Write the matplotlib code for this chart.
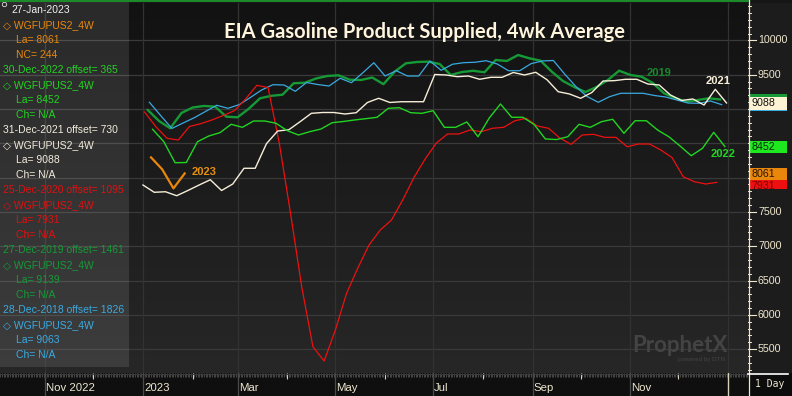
import numpy as np
import pandas as pd
import matplotlib
matplotlib.use("Agg")
import matplotlib.pyplot as plt
import matplotlib.transforms as mtransforms
from matplotlib.colors import LinearSegmentedColormap
from matplotlib.patches import Rectangle

W, H = 792, 396

# ---------------- data (weekly 4wk avg, shifted onto 2023 calendar) ----------------
start_2023 = "2023-01-06"
s2023 = [8295, 8120, 7843, 8061]

start_2022 = "2023-01-07"
s2022 = [8704, 8523, 8217, 8220, 8523, 8606, 8655, 8777, 8733, 8825,
         8825, 8792, 8684, 8621, 8669, 8708, 8800, 8818, 8840, 8859,
         8879, 9010, 9019, 8946, 8937, 8975, 8733, 8733, 8811, 8596,
         8869, 9073, 8879, 8879, 8774, 8563, 8555, 8596, 8777, 8733,
         8815, 8850, 8646, 8829, 8829, 8694, 8596, 8461, 8319, 8427,
         8660, 8452]

start_2021 = "2023-01-01"
s2021 = [7892, 7786, 7794, 7736, 7812, 7892, 7969, 7812, 7907, 8136,
         8136, 8494, 8679, 8698, 8815, 8937, 8949, 8949, 8927, 8946,
         9095, 9156, 9095, 9106, 9106, 9106, 9503, 9496, 9471, 9481,
         9433, 9462, 9462, 9532, 9496, 9535, 9427, 9252, 9219, 9156,
         9241, 9408, 9413, 9433, 9433, 9364, 9350, 9204, 9124, 9146,
         9058, 9287, 9088]

start_2020 = "2023-01-02"
s2020 = [8956, 8742, 8573, 8548, 8745, 8786, 8840, 8905, 8975, 9146,
         9345, 9313, 8504, 7484, 6410, 5535, 5327, 5779, 6314, 6682,
         7018, 7236, 7382, 7674, 8001, 8271, 8504, 8636, 8636, 8694,
         8669, 8719, 8733, 8829, 8864, 8752, 8719, 8577, 8485, 8621,
         8631, 8587, 8587, 8450, 8490, 8490, 8402, 8293, 8013, 7940,
         7907, 7931]

start_2019 = "2023-01-04"
s2019 = [8985, 8825, 8719, 8942, 9022, 9044, 9034, 8888, 8879, 9004,
         9156, 9192, 9208, 9375, 9383, 9445, 9481, 9491, 9427, 9423,
         9459, 9362, 9544, 9666, 9685, 9690, 9656, 9496, 9539, 9557,
         9535, 9714, 9700, 9787, 9739, 9704, 9544, 9408, 9321, 9248,
         9321, 9423, 9558, 9496, 9471, 9379, 9229, 9160, 9106, 9131,
         9156, 9139]

start_2018 = "2023-01-05"
s2018 = [9098, 8905, 8716, 8796, 8873, 8964, 9054, 9010, 9063, 9168,
         9277, 9354, 9350, 9258, 9386, 9357, 9335, 9448, 9383, 9525,
         9675, 9481, 9558, 9481, 9481, 9700, 9564, 9652, 9675, 9681,
         9704, 9656, 9558, 9558, 9660, 9700, 9707, 9510, 9328, 9182,
         9098, 9179, 9229, 9229, 9229, 9197, 9175, 9131, 9087, 9083,
         9117, 9063]

tick_dates = ["2022-11-01", "2023-01-01", "2023-03-01", "2023-05-01",
              "2023-07-01", "2023-09-01", "2023-11-01"]
tick_labels = ["Nov 2022", "2023", "Mar", "May", "Jul", "Sep", "Nov"]
y_ticks = [5500, 6000, 6500, 7000, 7500, 8000, 8500, 9000, 9500, 10000]
# labels hidden behind the last-value boxes in the original
y_hidden = [8000, 8500, 9000]

title = "EIA Gasoline Product Supplied, 4wk Average"

legend_lines = [
    ("27-Jan-2023", "#f0f0f0", 11),
    ("\u25C7 WGFUPUS2_4W", "#e8870c", 3),
    ("La= 8061", "#e8870c", 16),
    ("NC= 244", "#e8870c", 16),
    ("30-Dec-2022 offset= 365", "#22d422", 3),
    ("\u25C7 WGFUPUS2_4W", "#22d422", 3),
    ("La= 8452", "#22d422", 16),
    ("Ch= N/A", "#22d422", 16),
    ("31-Dec-2021 offset= 730", "#f2ecdc", 3),
    ("\u25C7 WGFUPUS2_4W", "#f2ecdc", 3),
    ("La= 9088", "#f2ecdc", 16),
    ("Ch= N/A", "#f2ecdc", 16),
    ("25-Dec-2020 offset= 1095", "#e01010", 3),
    ("\u25C7 WGFUPUS2_4W", "#e01010", 3),
    ("La= 7931", "#e01010", 16),
    ("Ch= N/A", "#e01010", 16),
    ("27-Dec-2019 offset= 1461", "#169a36", 3),
    ("\u25C7 WGFUPUS2_4W", "#169a36", 3),
    ("La= 9139", "#169a36", 16),
    ("Ch= N/A", "#169a36", 16),
    ("28-Dec-2018 offset= 1826", "#3aaae0", 3),
    ("\u25C7 WGFUPUS2_4W", "#3aaae0", 3),
    ("La= 9063", "#3aaae0", 16),
    ("Ch= N/A", "#3aaae0", 16),
]

C_ORANGE = "#e8870c"
C_LGREEN = "#22d422"
C_CREAM = "#f6eed8"
C_RED = "#ee1010"
C_DGREEN = "#169a36"
C_BLUE = "#3aaae0"
TXT = "#efe7cf"

FONT = ["Liberation Sans", "DejaVu Sans"]
plt.rcParams["font.family"] = FONT

fig = plt.figure(figsize=(W / 100, H / 100), dpi=100, facecolor="#161616")
px = mtransforms.Affine2D().scale(1 / W, -1 / H).translate(0, 1) + fig.transFigure

# ---------------- main axes ----------------
plot_top, plot_bot, plot_right = 3, 373, 748
ax = fig.add_axes([0, 1 - plot_bot / H, plot_right / W, (plot_bot - plot_top) / H])
ax.set_facecolor("#161616")
grad = LinearSegmentedColormap.from_list("g", ["#121212", "#272727"])
ax.imshow(np.linspace(0, 1, 256).reshape(-1, 1), cmap=grad, aspect="auto",
          extent=[0, 1, 0, 1], transform=ax.transAxes, zorder=0)

jan1 = pd.Timestamp("2023-01-01")
x0 = jan1 - pd.Timedelta(days=89.2)
x1 = jan1 + pd.Timedelta(days=377.4)
ylo, yhi = 5152, 10545

for v in y_ticks:
    ax.axhline(v, color="#3a3a3a", lw=0.9, zorder=1)
for d in tick_dates + ["2024-01-01"]:
    ax.axvline(pd.Timestamp(d), color="#323232", lw=0.9, zorder=1)


def wk(start, vals):
    return pd.date_range(start=start, periods=len(vals), freq="7D")


ax.plot(wk(start_2019, s2019), s2019, color=C_DGREEN, lw=1.7, zorder=3)
ax.plot(wk(start_2018, s2018), s2018, color=C_BLUE, lw=0.9, zorder=4)
ax.plot(wk(start_2020, s2020), s2020, color=C_RED, lw=0.9, zorder=4)
ax.plot(wk(start_2021, s2021), s2021, color=C_CREAM, lw=1.0, zorder=5)
ax.plot(wk(start_2022, s2022), s2022, color=C_LGREEN, lw=1.0, zorder=5)
ax.plot(wk(start_2023, s2023), s2023, color=C_ORANGE, lw=1.6, zorder=6)

ax.set_xlim(x0, x1)
ax.set_ylim(ylo, yhi)
ax.set_xticks([])
ax.set_yticks([])
for s in ax.spines.values():
    s.set_visible(False)

# ---------------- right value axis ----------------
rx = fig.add_axes([plot_right / W, 1 - plot_bot / H, (W - plot_right) / W, (plot_bot - plot_top) / H])
rx.set_facecolor("#1c1c1c")
rx.set_xlim(0, W - plot_right)
rx.set_ylim(ylo, yhi)
rx.set_xticks([])
rx.set_yticks([])
for s in rx.spines.values():
    s.set_visible(False)
for v in range(5200, 10600, 100):
    rx.plot([0, 2.5], [v, v], color=TXT, lw=0.7)
for v in y_ticks:
    rx.plot([0, 8], [v, v], color=TXT, lw=0.8)
    if v not in y_hidden:
        rx.text(10, v, str(v), color=TXT, fontsize=7.7, va="center", ha="left")

box_h = 6.3 * 14.577
# (value, box colour, text colour, show text)
for val, fc, tc, show in [(9063, C_BLUE, "#000000", False), (9139, C_DGREEN, "#000000", False),
                          (9088, "#fdf3d4", "#111111", True), (8452, "#1ee81e", "#0a2a0a", True),
                          (7931, "#ee1010", "#7a0000", True), (8061, "#e8870c", "#2a1500", True)]:
    rx.add_patch(Rectangle((1, val - box_h - 7), 38, 2 * box_h, fc=fc, ec="none", zorder=5))
    if show:
        dy = -60 if val == 7931 else -7
        rx.text(3, val + dy, str(val), color=tc, fontsize=7.7, va="center", ha="left", zorder=5.5)

# ---------------- bottom time axis ----------------
bx = fig.add_axes([0, 0, plot_right / W, (H - plot_bot) / H])
bx.set_facecolor("#0f0f0f")
bx.set_xlim(x0, x1)
bx.set_ylim(0, H - plot_bot)
bx.set_xticks([])
bx.set_yticks([])
for s in bx.spines.values():
    s.set_visible(False)
days = pd.date_range(x0.normalize(), x1, freq="D")
bx.vlines(days, H - plot_bot - 4, H - plot_bot, color="#5e5e5e", lw=0.5)
months = pd.date_range("2022-10-01", "2024-01-01", freq="MS")
bx.vlines(months, H - plot_bot - 6, H - plot_bot, color="#d8d0b8", lw=0.8)
bx.axhline(H - plot_bot - 0.5, color="#3a3a3a", lw=0.8)
for d, lab in zip(tick_dates, tick_labels):
    bx.axvline(pd.Timestamp(d), color="#4a4a4a", lw=0.9)
    bx.text(pd.Timestamp(d) + pd.Timedelta(days=0.7), 8, lab, color=TXT, fontsize=8.2,
            va="center", ha="left")
bx.axvline(pd.Timestamp("2024-01-01"), color="#d8d0b8", lw=1.0)

# "1 Day" box
fig.patches.append(Rectangle((plot_right, 0), W - plot_right, H - plot_bot,
                             transform=mtransforms.Affine2D().scale(1 / W, 1 / H) + fig.transFigure,
                             fc="#0c0c0c", ec="none", zorder=2))
fig.text(770, 384, "1 Day", transform=px, color=TXT, fontsize=7, family="DejaVu Sans Mono",
         ha="center", va="center", zorder=5)
fig.add_artist(plt.Line2D([plot_right + 0.5, plot_right + 0.5], [0, H], transform=px, color=TXT, lw=0.9, zorder=6))
fig.add_artist(plt.Line2D([plot_right, W - 4], [plot_bot + 1, plot_bot + 1], transform=px, color="#ffffff", lw=1.2, zorder=6))
fig.add_artist(plt.Line2D([0, plot_right], [0.8, 0.8], transform=px, color="#1c8a2a", lw=1.5, zorder=6))

# ---------------- legend overlay panel ----------------
fig.patches.append(Rectangle((0, 0), 129, 367, transform=px, fc="#ffffff", alpha=0.1, ec="none", zorder=3))
fig.add_artist(plt.Circle((4.5, 4.5), 2.2, transform=px, fill=False, ec="#dddddd", lw=0.6, zorder=5))
for i, (txt, col, xoff) in enumerate(legend_lines):
    fig.text(xoff, 10 + 15 * i, txt, transform=px, color=col, fontsize=7.5,
             va="center", ha="left", family=FONT, zorder=5)

# ---------------- title, year labels, logo ----------------
fig.text(424, 32, title, transform=px, color="#fff4dc", fontsize=14.5, fontweight="bold",
         family=["Lato", "DejaVu Sans"], ha="center", va="center", zorder=5)
for txt, col, xx, yy in [("2023", "#e8900f", 192, 172), ("2019", "#178a2e", 647, 73),
                         ("2021", "#f6eed8", 706, 81), ("2022", "#22d422", 711, 154)]:
    fig.text(xx, yy, txt, transform=px, color=col, fontsize=8, fontweight="bold",
             ha="left", va="center", zorder=5)
fig.text(680, 346, "ProphetX", transform=px, color="#444444", fontsize=16, fontweight="bold",
         family=["Lato", "DejaVu Sans"], ha="center", va="center", zorder=2)
fig.text(702, 359, "powered by DTN", transform=px, color="#444444", fontsize=4.5,
         ha="center", va="center", zorder=2)

fig.savefig("out.png", dpi=100, facecolor=fig.get_facecolor())
